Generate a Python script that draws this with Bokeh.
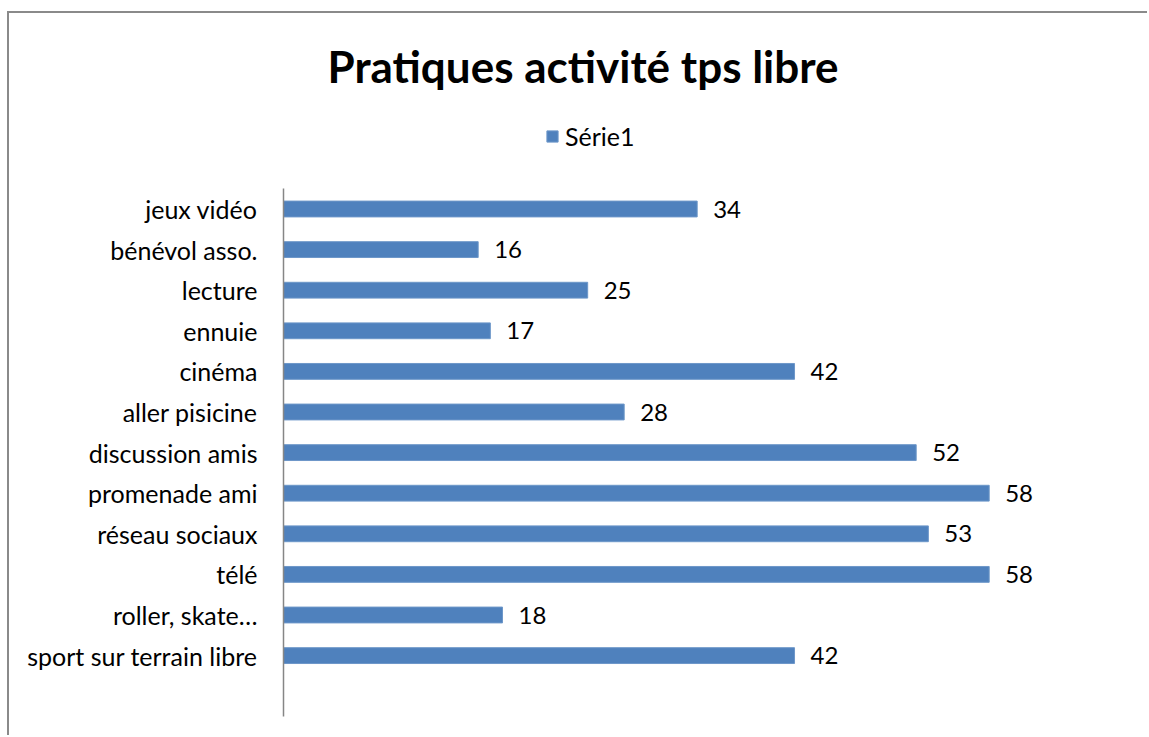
from bokeh.plotting import figure
from bokeh.models import FactorRange, Range1d, ColumnDataSource, Legend, LegendItem
from bokeh.core.properties import value
from bokeh.embed import file_html
from bokeh.resources import INLINE

title_text = "Pratiques activité tps libre"
series_name = "Série1"
categories = ["jeux vidéo", "bénévol asso.", "lecture", "ennuie", "cinéma",
              "aller pisicine", "discussion amis", "promenade ami", "réseau sociaux",
              "télé", "roller, skate…", "sport sur terrain libre"]
values = [34, 16, 25, 17, 42, 28, 52, 58, 53, 58, 18, 42]

FONT = "Lato"
# blank slot below the bars, and two blank slots above them (room for the legend)
factors = [" "] + list(reversed(categories)) + ["  ", "   "]

src = ColumnDataSource(dict(cat=categories, val=values, lab=[str(v) for v in values]))

p = figure(width=1140, height=724, output_backend="svg", toolbar_location=None,
           y_range=FactorRange(factors=factors), x_range=Range1d(0, 70.6),
           min_border_left=274, min_border_top=94, min_border_bottom=21, min_border_right=7)
p.styles = {"border-left": "2px solid #8a8a8a", "border-top": "2px solid #8a8a8a",
            "margin-left": "7px", "margin-top": "11px"}

r = p.hbar(y="cat", right="val", left=0, height=0.39, source=src,
           fill_color="#4F81BD", line_color="#6d97c9", line_width=1)
p.text(x="val", y="cat", text="lab", source=src, x_offset=16,
       text_baseline="middle", text_align="left",
       text_font=value(FONT), text_font_size="24px", text_color="#000000")

p.xaxis.visible = False
p.xgrid.visible = False
p.ygrid.visible = False
p.outline_line_color = None
ax = p.yaxis[0]
ax.bounds = (0, 13)
ax.axis_line_color = "#868686"
ax.axis_line_width = 1.5
ax.major_tick_line_color = None
ax.minor_tick_line_color = None
ax.major_label_text_font = FONT
ax.major_label_text_font_size = "25px"
ax.major_label_text_color = "#000000"
ax.major_label_standoff = 20

p.title.text = title_text
p.title.text_font = FONT
p.title.text_font_size = "44px"
p.title.text_font_style = "bold"
p.title.text_color = "#000000"
p.title.align = "left"
p.title.vertical_align = "top"
p.title.offset = 44
p.title.standoff = 28

legend = Legend(items=[LegendItem(label=series_name, renderers=[r])],
                orientation="horizontal", location=(262, 565),
                label_text_font=FONT, label_text_font_size="25px",
                label_text_color="#000000",
                glyph_width=14, glyph_height=14, label_standoff=6,
                border_line_color=None, background_fill_alpha=0,
                padding=0, margin=0, spacing=0)
p.add_layout(legend, "center")

open("out.html", "w").write(file_html(p, INLINE))
